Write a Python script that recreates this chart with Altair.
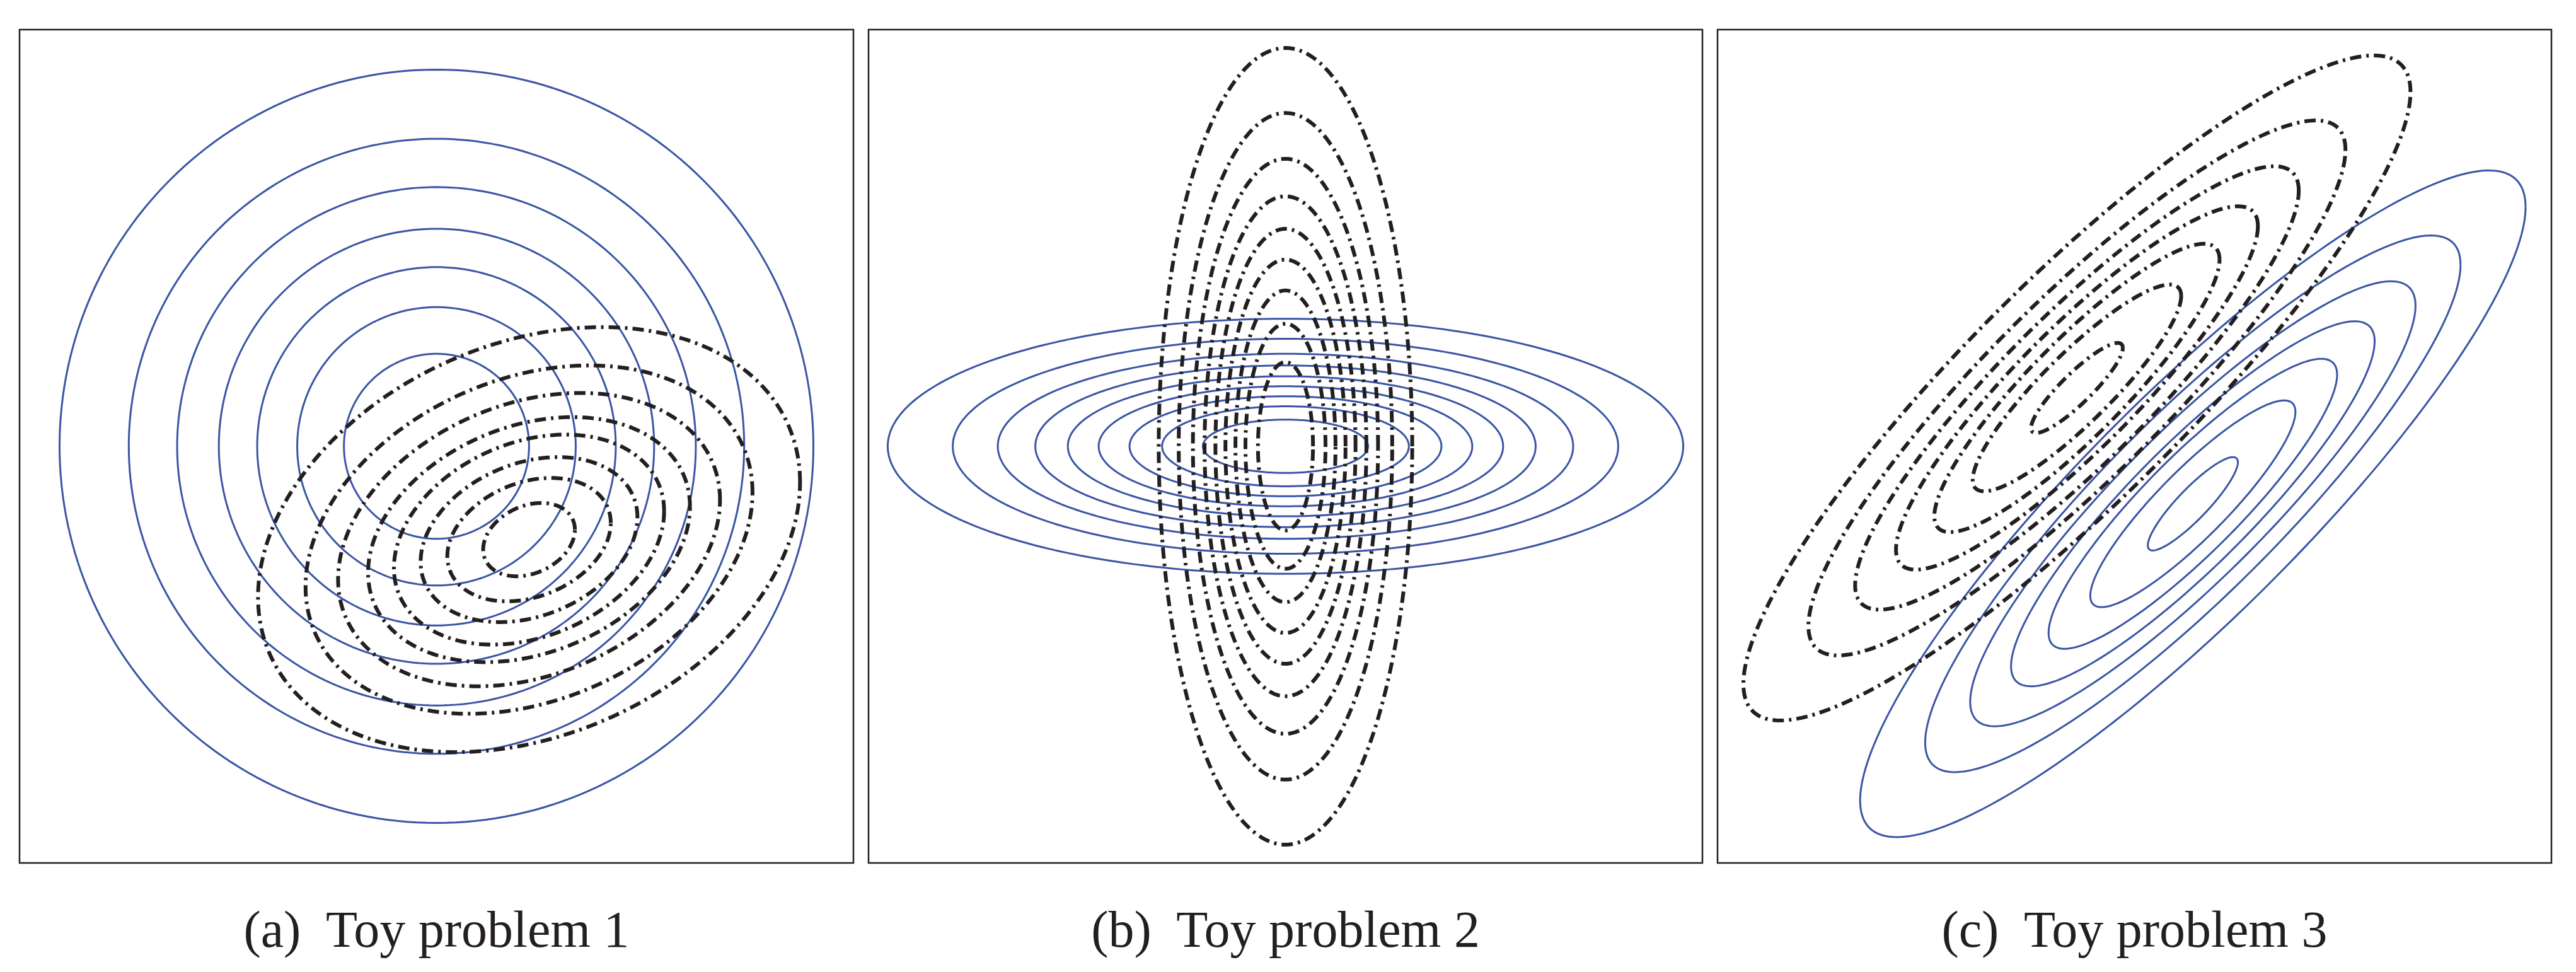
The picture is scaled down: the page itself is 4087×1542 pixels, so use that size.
import numpy as np
import pandas as pd
import altair as alt

# ---- values (percent of each square panel) ----
CAPTIONS = ["(a)\u00a0 Toy problem 1", "(b)\u00a0 Toy problem 2", "(c)\u00a0 Toy problem 3"]

# Panel (a): blue concentric circles, black tilted ellipses
A_BLUE_CENTER = (50.0, 50.0)
A_BLUE_X = [45.2, 36.9, 31.1, 26.1, 21.5, 16.7, 11.1]
A_BLUE_Y = [45.2, 36.9, 31.1, 26.1, 21.5, 16.7, 11.1]
A_BLUE_RHO = 0.0
A_BLACK_CENTER = (61.1, 38.8)
A_BLACK_X = [32.5, 26.8, 22.9, 19.3, 16.2, 13.0, 9.8, 5.5]
A_BLACK_Y = [25.5, 20.9, 17.6, 14.7, 12.6, 9.9, 7.4, 4.4]
A_BLACK_RHO = 0.27

# Panel (b): horizontal blue ellipses, vertical black ellipses
B_BLUE_CENTER = (50.0, 50.0)
B_BLUE_X = [47.7, 39.9, 34.5, 30.0, 26.1, 22.4, 18.7, 14.8, 9.9]
B_BLUE_Y = [15.3, 12.9, 11.1, 9.7, 8.4, 7.2, 6.0, 4.8, 3.2]
B_BLUE_RHO = 0.0
B_BLACK_CENTER = (50.0, 50.0)
B_BLACK_X = [15.2, 12.8, 11.1, 9.7, 8.4, 7.2, 6.0, 4.8, 3.3]
B_BLACK_Y = [47.8, 40.0, 34.5, 30.0, 26.1, 22.4, 18.7, 14.7, 10.1]
B_BLACK_RHO = 0.0

# Panel (c): two correlated families
C_BLUE_CENTER = (57.0, 43.1)
C_BLUE_X = [39.9, 32.1, 26.7, 21.8, 17.3, 12.3, 5.4]
C_BLUE_Y = [40.0, 32.2, 26.7, 21.9, 17.4, 12.4, 5.6]
C_BLUE_RHO = 0.89
C_BLACK_CENTER = (43.1, 57.0)
C_BLACK_X = [40.0, 32.2, 26.6, 21.7, 17.1, 12.5, 5.5]
C_BLACK_Y = [39.9, 32.1, 26.6, 21.8, 17.3, 12.4, 5.4]
C_BLACK_RHO = 0.89

BLUE = "#3a55a5"
BLACK = "#231f20"
PANEL_W, PANEL_H = 1323, 1322


def contour_frame(center, xs, ys, rho, n=241):
    cx, cy = center
    t = np.linspace(0.0, 2.0 * np.pi, n)
    rows = []
    for k, (X, Y) in enumerate(zip(xs, ys)):
        px = cx + X * np.cos(t)
        py = cy + Y * (rho * np.cos(t) + np.sqrt(1.0 - rho ** 2) * np.sin(t))
        for i in range(n):
            rows.append({"x": float(px[i]), "y": float(py[i]), "contour": k, "i": i})
    return pd.DataFrame(rows)


def panel(blue, black, caption):
    xs = alt.X("x:Q", scale=alt.Scale(domain=[0, 100], nice=False, zero=False), axis=None)
    ys = alt.Y("y:Q", scale=alt.Scale(domain=[0, 100], nice=False, zero=False), axis=None)
    blue_layer = alt.Chart(contour_frame(*blue)).mark_line(
        color=BLUE, strokeWidth=3, clip=True
    ).encode(x=xs, y=ys, detail="contour:N", order="i:Q")
    black_layer = alt.Chart(contour_frame(*black)).mark_line(
        color=BLACK, strokeWidth=6, strokeDash=[18, 8, 4, 8], clip=True
    ).encode(x=xs, y=ys, detail="contour:N", order="i:Q")
    cap = alt.Chart(pd.DataFrame({"caption": [caption]})).mark_text(
        font="Liberation Serif", fontSize=82, color="#231f20",
        align="center", baseline="alphabetic"
    ).encode(text="caption:N", x=alt.value(PANEL_W / 2), y=alt.value(PANEL_H + 133))
    return alt.layer(blue_layer, black_layer, cap).properties(width=PANEL_W, height=PANEL_H)


pa = panel((A_BLUE_CENTER, A_BLUE_X, A_BLUE_Y, A_BLUE_RHO),
           (A_BLACK_CENTER, A_BLACK_X, A_BLACK_Y, A_BLACK_RHO), CAPTIONS[0])
pb = panel((B_BLUE_CENTER, B_BLUE_X, B_BLUE_Y, B_BLUE_RHO),
           (B_BLACK_CENTER, B_BLACK_X, B_BLACK_Y, B_BLACK_RHO), CAPTIONS[1])
pc = panel((C_BLUE_CENTER, C_BLUE_X, C_BLUE_Y, C_BLUE_RHO),
           (C_BLACK_CENTER, C_BLACK_X, C_BLACK_Y, C_BLACK_RHO), CAPTIONS[2])

chart = alt.hconcat(pa, pb, pc, spacing=20).properties(
    padding={"left": 21, "top": 37, "right": 5, "bottom": 5},
    background="white",
).configure_view(stroke=BLACK, strokeWidth=2.5)

chart.save("out.html", embed_options={"renderer": "svg", "actions": False})
